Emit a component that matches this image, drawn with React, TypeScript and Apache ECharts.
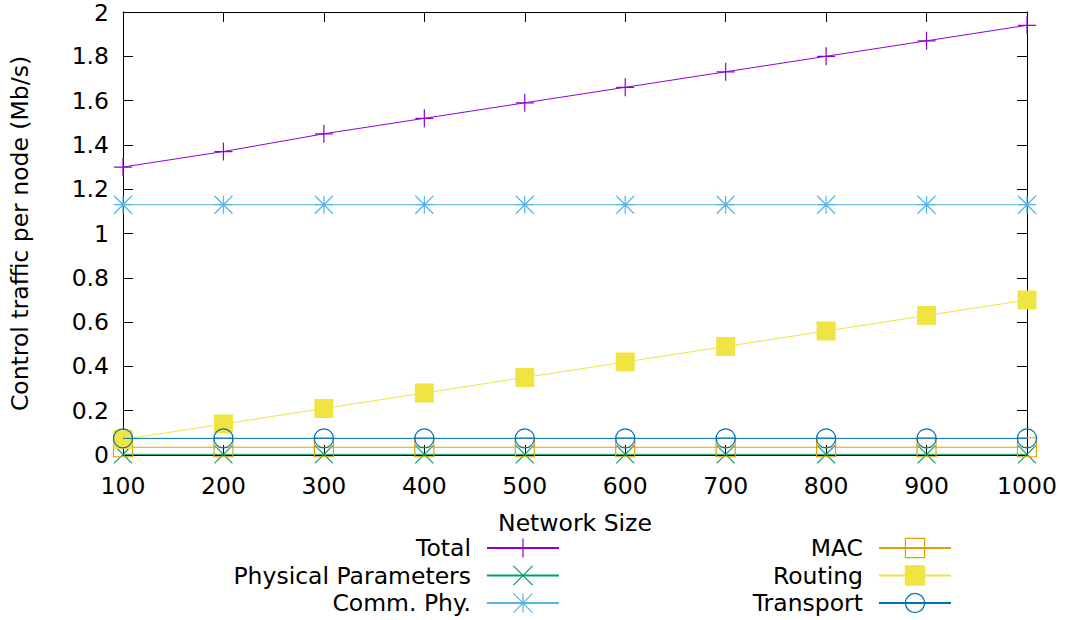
import React, { useEffect, useRef } from "react";
import * as echarts from "echarts";

const networkSizes = [100, 200, 300, 400, 500, 600, 700, 800, 900, 1000];
const totalValues = [1.30, 1.37, 1.45, 1.52, 1.59, 1.66, 1.73, 1.80, 1.87, 1.94];
const physicalValues = [0.003, 0.003, 0.003, 0.003, 0.003, 0.003, 0.003, 0.003, 0.003, 0.003];
const commPhyValues = [1.13, 1.13, 1.13, 1.13, 1.13, 1.13, 1.13, 1.13, 1.13, 1.13];
const macValues = [0.035, 0.035, 0.035, 0.035, 0.035, 0.035, 0.035, 0.035, 0.035, 0.035];
const routingValues = [0.07, 0.14, 0.21, 0.28, 0.35, 0.42, 0.49, 0.56, 0.63, 0.70];
const transportValues = [0.075, 0.075, 0.075, 0.075, 0.075, 0.075, 0.075, 0.075, 0.075, 0.075];

const seriesNames = ["Total", "Physical Parameters", "Comm. Phy.", "MAC", "Routing", "Transport"];
const seriesColors = ["#9400d3", "#009e73", "#56b4e9", "#e69f00", "#f0e442", "#0072b2"];

const SYM_PLUS = "path://M0,-1L0,1M-1,0L1,0";
const SYM_CROSS = "path://M-1,-1L1,1M-1,1L1,-1";
const SYM_STAR = "path://M0,-1L0,1M-1,0L1,0M-1,-1L1,1M-1,1L1,-1";
const SYM_SQUARE = "path://M-1,-1L1,-1L1,1L-1,1Z";
const SYM_CIRCLE = "path://M1,0A1,1,0,1,1,-1,0A1,1,0,1,1,1,0Z";

const FONT = "DejaVu Sans";
const FS = 23.5;

function pairs(vals: number[]) {
  return networkSizes.map((x, i) => [x, vals[i]]);
}

export default function App() {
  const ref = useRef<HTMLDivElement>(null);
  useEffect(() => {
    if (!ref.current) return;
    const chart = echarts.init(ref.current, undefined, { renderer: "svg" });
    const allValues = [totalValues, physicalValues, commPhyValues, macValues, routingValues, transportValues];
    const symbols = [SYM_PLUS, SYM_CROSS, SYM_STAR, SYM_SQUARE, "rect", SYM_CIRCLE];
    const sizes = [18, 18, 18, 19, 19, 19];
    const filled = [true, true, true, false, true, false];

    const series = seriesNames.map((name, i) => ({
      name,
      type: "line",
      data: pairs(allValues[i]),
      symbol: symbols[i],
      symbolSize: sizes[i],
      showAllSymbol: true,
      color: seriesColors[i],
      lineStyle: { color: seriesColors[i], width: 1 },
      itemStyle: {
        color: filled[i] ? seriesColors[i] : "rgba(0,0,0,0)",
        borderColor: seriesColors[i],
        borderWidth: i === 4 ? 0 : 1.2,
      },
      emphasis: { disabled: true },
      z: 2 + i,
    }));

    const tickStyle = { show: true, inside: true, length: 10, lineStyle: { color: "#000", width: 1 } };
    const axisLine = { show: true, onZero: false, lineStyle: { color: "#000", width: 1 } };

    const legendCommon = {
      orient: "vertical",
      align: "right",
      top: 536,
      itemWidth: 72,
      itemHeight: 24,
      itemGap: 3.5,
      padding: 0,
      selectedMode: false,
      itemStyle: { borderWidth: 1.2 },
      textStyle: { fontFamily: FONT, fontSize: FS, color: "#000", lineHeight: 24, padding: [0, 11, 0, 0] },
    };

    chart.setOption({
      animation: false,
      grid: { left: 123, right: 46, top: 12, bottom: 165, show: false, outerBoundsMode: "none", containLabel: false },
      legend: [
        { ...legendCommon, right: 513, data: seriesNames.slice(0, 3) },
        { ...legendCommon, right: 121, data: seriesNames.slice(3) },
      ],
      xAxis: [
        {
          type: "value",
          min: 100,
          max: 1000,
          interval: 100,
          position: "bottom",
          name: "Network Size",
          nameLocation: "middle",
          nameGap: 56,
          nameTextStyle: { fontFamily: FONT, fontSize: FS, color: "#000" },
          axisLine,
          axisTick: tickStyle,
          axisLabel: { fontFamily: FONT, fontSize: FS, color: "#000", margin: 19, formatter: (v: number) => String(v) },
          splitLine: { show: false },
        },
        {
          type: "value",
          min: 100,
          max: 1000,
          interval: 100,
          position: "top",
          axisLine,
          axisTick: tickStyle,
          axisLabel: { show: false },
          splitLine: { show: false },
        },
      ],
      yAxis: [
        {
          type: "value",
          min: 0,
          max: 2,
          interval: 0.2,
          position: "left",
          name: "Control traffic per node (Mb/s)",
          nameLocation: "middle",
          nameGap: 91,
          nameTextStyle: { fontFamily: FONT, fontSize: FS, color: "#000" },
          axisLine,
          axisTick: tickStyle,
          axisLabel: {
            fontFamily: FONT,
            fontSize: FS,
            color: "#000",
            margin: 14,
            formatter: (v: number) => (v >= 2 ? "{t|" + v + "}" : String(Math.round(v * 10) / 10)),
            rich: { t: { fontFamily: FONT, fontSize: FS, color: "#000", padding: [2, 0, 0, 0], lineHeight: 18 } },
          },
          splitLine: { show: false },
        },
        {
          type: "value",
          min: 0,
          max: 2,
          interval: 0.2,
          position: "right",
          axisLine,
          axisTick: tickStyle,
          axisLabel: { show: false },
          splitLine: { show: false },
        },
      ],
      series,
    });
    return () => chart.dispose();
  }, []);
  return <div ref={ref} style={{ width: 1073, height: 620, position: "absolute", left: 0, top: 0 }} />;
}
